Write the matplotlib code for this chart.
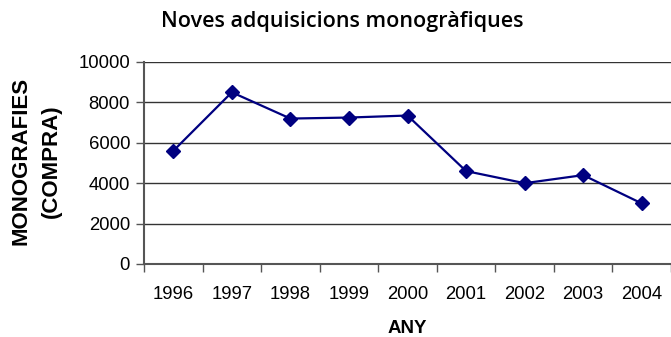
import numpy as np
import matplotlib.pyplot as plt
from matplotlib.ticker import FixedLocator, NullFormatter

# dades
anys = ['1996', '1997', '1998', '1999', '2000', '2001', '2002', '2003', '2004']
compres = [5600, 8500, 7200, 7250, 7350, 4600, 4000, 4400, 3000]

fig = plt.figure(figsize=(6.71, 3.37), dpi=100)
ax = fig.add_axes([144/671, 73/337, 527/671, 202/337])

x = np.arange(len(anys))
ax.plot(x, compres, color='#000080', lw=1.6, marker='D', markersize=7,
        markerfacecolor='#000080', markeredgecolor='#000080', zorder=3)

ax.set_xlim(-0.5, len(anys) - 0.5)
ax.set_ylim(0, 10000)
ax.set_yticks(range(0, 10001, 2000))
ax.set_xticks(x)
ax.set_xticklabels(anys)
ax.xaxis.set_minor_locator(FixedLocator(np.arange(-0.5, len(anys), 1.0)))
ax.xaxis.set_minor_formatter(NullFormatter())
ax.tick_params(axis='x', which='major', length=0, pad=16)
ax.tick_params(axis='x', which='minor', length=6, width=1, color='#555555')
ax.tick_params(axis='y', length=6, width=1, color='#555555', pad=4)
for lab in ax.get_xticklabels() + ax.get_yticklabels():
    lab.set_family('Liberation Sans')
    lab.set_fontsize(13.3)

ax.grid(axis='y', color='#333333', lw=1)
ax.set_axisbelow(True)
for s in ['top', 'right']:
    ax.spines[s].set_visible(False)
ax.spines['left'].set_color('#555555')
ax.spines['left'].set_linewidth(1.5)
ax.spines['bottom'].set_color('#555555')
ax.spines['bottom'].set_linewidth(1.5)

fig.text(0.51, 0.935, 'Noves adquisicions monogràfiques', ha='center', va='center',
         fontsize=15.5, family='Open Sans', fontweight='semibold')
fig.text(0.607, 0.026, 'ANY', ha='center', va='center', fontsize=13.5,
         fontweight='bold', family='Liberation Sans')
fig.text(0.054, 0.522, 'MONOGRAFIES\n(COMPRA)', ha='center', va='center',
         rotation=90, fontsize=16, fontweight='bold', family='Liberation Sans',
         linespacing=1.55)

fig.savefig('out.png', dpi=100)
